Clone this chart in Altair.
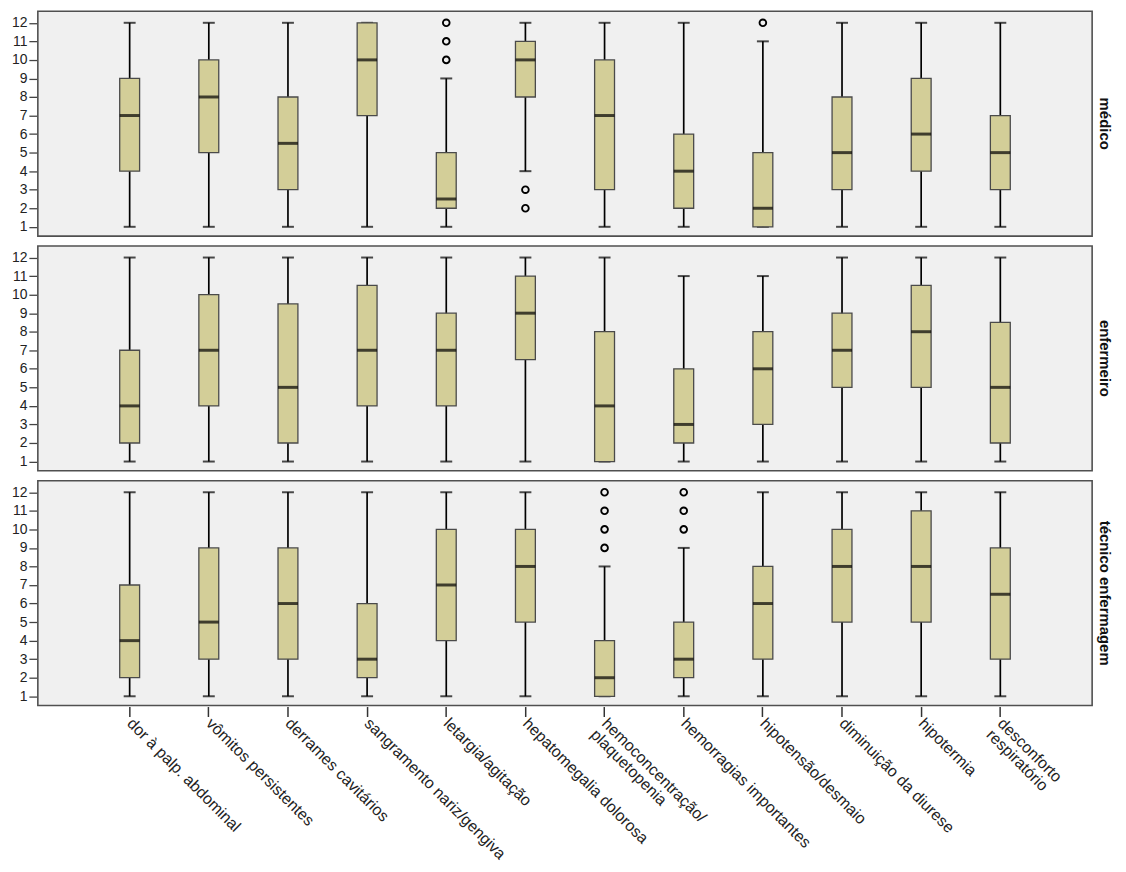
import altair as alt
import pandas as pd

groups = ["médico", "enfermeiro", "técnico enfermagem"]
cats = [
    "dor à palp. abdominal", "vômitos persistentes", "derrames cavitários",
    "sangramento nariz/gengiva", "letargia/agitação", "hepatomegalia dolorosa",
    "hemoconcentração/|plaquetopenia", "hemorragias importantes",
    "hipotensão/desmaio", "diminuição da diurese", "hipotermia",
    "desconforto|respiratório",
]

medico_lo = [1, 1, 1, 1, 1, 4, 1, 1, 1, 1, 1, 1]
medico_q1 = [4, 5, 3, 7, 2, 8, 3, 2, 1, 3, 4, 3]
medico_med = [7, 8, 5.5, 10, 2.5, 10, 7, 4, 2, 5, 6, 5]
medico_q3 = [9, 10, 8, 12, 5, 11, 10, 6, 5, 8, 9, 7]
medico_hi = [12, 12, 12, 12, 9, 12, 12, 12, 11, 12, 12, 12]
medico_out = {"letargia/agitação": [10, 11, 12],
              "hepatomegalia dolorosa": [2, 3],
              "hipotensão/desmaio": [12]}

enf_lo = [1, 1, 1, 1, 1, 1, 1, 1, 1, 1, 1, 1]
enf_q1 = [2, 4, 2, 4, 4, 6.5, 1, 2, 3, 5, 5, 2]
enf_med = [4, 7, 5, 7, 7, 9, 4, 3, 6, 7, 8, 5]
enf_q3 = [7, 10, 9.5, 10.5, 9, 11, 8, 6, 8, 9, 10.5, 8.5]
enf_hi = [12, 12, 12, 12, 12, 12, 12, 11, 11, 12, 12, 12]
enf_out = {}

tec_lo = [1, 1, 1, 1, 1, 1, 1, 1, 1, 1, 1, 1]
tec_q1 = [2, 3, 3, 2, 4, 5, 1, 2, 3, 5, 5, 3]
tec_med = [4, 5, 6, 3, 7, 8, 2, 3, 6, 8, 8, 6.5]
tec_q3 = [7, 9, 9, 6, 10, 10, 4, 5, 8, 10, 11, 9]
tec_hi = [12, 12, 12, 12, 12, 12, 8, 9, 12, 12, 12, 12]
tec_out = {"hemoconcentração/|plaquetopenia": [9, 10, 11, 12],
           "hemorragias importantes": [10, 11, 12]}

stats = {
    "médico": (medico_lo, medico_q1, medico_med, medico_q3, medico_hi, medico_out),
    "enfermeiro": (enf_lo, enf_q1, enf_med, enf_q3, enf_hi, enf_out),
    "técnico enfermagem": (tec_lo, tec_q1, tec_med, tec_q3, tec_hi, tec_out),
}

rows = []
for g in groups:
    lo, q1, med, q3, hi, outs = stats[g]
    for i, c in enumerate(cats):
        rows.append(dict(kind="box", group=g, cat=c, lo=lo[i], q1=q1[i],
                         med=med[i], q3=q3[i], hi=hi[i]))
    for c, vals in outs.items():
        for v in vals:
            rows.append(dict(kind="out", group=g, cat=c, out=v))
df = pd.DataFrame(rows)

FONT = "Arial, Liberation Sans"

x_enc = alt.X(
    "cat:N", sort=cats, title=None,
    scale=alt.Scale(paddingInner=0, paddingOuter=0.66),
    axis=alt.Axis(labelAngle=45, labelAlign="left", labelBaseline="middle",
                  labelExpr="split(datum.label, '|')", labelFontSize=16,
                  labelFont=FONT, labelColor="#222", labelPadding=4,
                  tickSize=10, tickColor="#333", tickWidth=1.5, domain=False,
                  labelLineHeight=16, labelLimit=400),
)
y_scale = alt.Scale(domain=[0.5, 12.62], nice=False, zero=False)
y_axis = alt.Axis(values=list(range(1, 13)), title=None, labelFontSize=14,
                  labelFont=FONT, labelColor="#222", tickSize=8,
                  tickColor="#444", tickWidth=1.3, domain=False, grid=False,
                  labelPadding=2)

base = alt.Chart()
boxes = base.transform_filter("datum.kind == 'box'")

whisk = boxes.mark_rule(color="black", strokeWidth=1.7).encode(
    x=x_enc, y=alt.Y("lo:Q", scale=y_scale, axis=y_axis), y2="hi:Q")
cap_lo = boxes.mark_tick(color="black", size=12, thickness=2).encode(
    x=x_enc, y=alt.Y("lo:Q", scale=y_scale, axis=y_axis))
cap_hi = boxes.mark_tick(color="black", size=12, thickness=2).encode(
    x=x_enc, y=alt.Y("hi:Q", scale=y_scale, axis=y_axis))
box = boxes.mark_bar(size=20, fill="#D3CE98", stroke="#4a4a4a",
                     strokeWidth=1.3).encode(
    x=x_enc, y=alt.Y("q1:Q", scale=y_scale, axis=y_axis), y2="q3:Q")
median = boxes.mark_tick(color="black", size=20, thickness=3).encode(
    x=x_enc, y=alt.Y("med:Q", scale=y_scale, axis=y_axis))
outl = base.transform_filter("datum.kind == 'out'").mark_point(
    shape="circle", filled=False, color="black", size=45, strokeWidth=1.9,
    opacity=1).encode(
    x=x_enc, y=alt.Y("out:Q", scale=y_scale, axis=y_axis))

layered = alt.layer(whisk, cap_lo, cap_hi, box, median, outl).properties(
    width=1060, height=226)

chart = layered.facet(
    row=alt.Row("group:N", sort=groups,
                header=alt.Header(title=None, labelOrient="right",
                                  labelAngle=90, labelFontWeight="bold",
                                  labelFontSize=15, labelFont=FONT,
                                  labelColor="#111", labelPadding=4)),
    data=df, spacing=8,
).properties(
    padding={"left": 3, "top": 0, "right": 6, "bottom": 0},
).configure_view(
    fill="#F0F0F0", stroke="#505050", strokeWidth=1.6,
)

chart.save("out.html", embed_options={"renderer": "svg", "actions": False})
